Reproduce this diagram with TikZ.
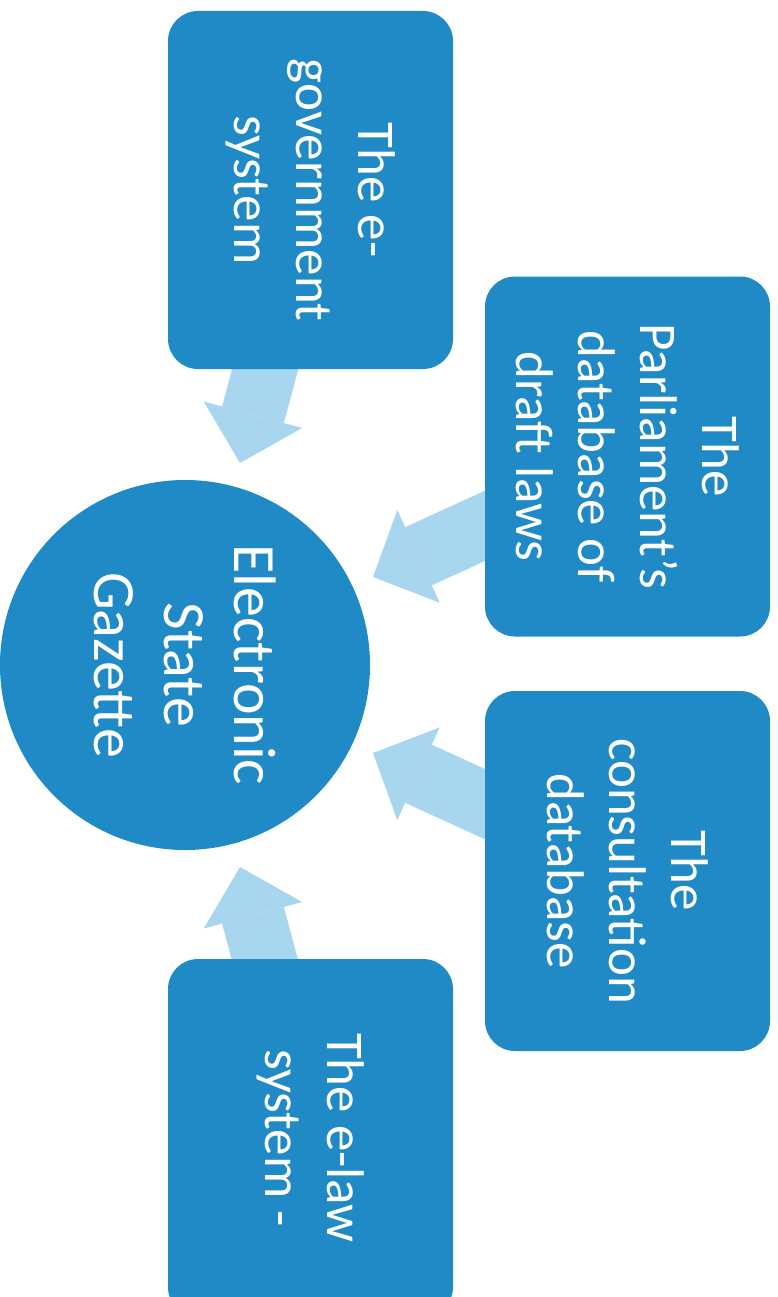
\documentclass[tikz,border=0pt]{standalone}
\usepackage{fontspec}
\setmainfont{Carlito}
\usetikzlibrary{arrows.meta}
\definecolor{boxblue}{HTML}{208AC7}
\definecolor{arrowblue}{HTML}{A8D6EF}

\begin{document}
\begin{tikzpicture}[x=1pt,y=-1pt]
	\tikzstyle{every node} = [fill = boxblue, text = white, rotate = -90, align = center, inner sep = 0pt, rounded corners = 30pt, font = \fontsize{53}{62}\selectfont]
	\tikzstyle{feed} = [draw = arrowblue, line width = 64pt, -{Triangle[width = 102pt, length = 50pt, line width = 0pt]}]
\useasboundingbox (0, 0) rectangle (778, 1297);
\clip (0, 0) rectangle (778, 1297);

\coordinate (s1) at (269, 355);
\coordinate (t1) at (240, 463);
\coordinate (s2) at (500, 519);
\coordinate (t2) at (373, 577);
\coordinate (s3) at (500, 811);
\coordinate (t3) at (373, 753);
\coordinate (s4) at (269, 975);
\coordinate (t4) at (240, 867);

	\path[feed] (s1) -- (t1);
	\path[feed] (s2) -- (t2);
	\path[feed] (s3) -- (t3);
	\path[feed] (s4) -- (t4);

\node[minimum width = 358pt, minimum height = 285pt] (1) at (310.5, 190) {The e-\\government\\system};
\node[minimum width = 360pt, minimum height = 285pt] (2) at (627.5, 456.5) {The\\Parliament’s\\database of\\draft laws};
\node[minimum width = 360pt, minimum height = 285pt] (3) at (627.5, 871) {The\\consultation\\database};
\node[minimum width = 358pt, minimum height = 285pt] (4) at (310.5, 1138) {The e-law\\system -};
\node[circle, minimum size = 370pt, font = \fontsize{60}{70}\selectfont] (0) at (185, 665) {Electronic\\State\\Gazette};
\end{tikzpicture}
\end{document}
